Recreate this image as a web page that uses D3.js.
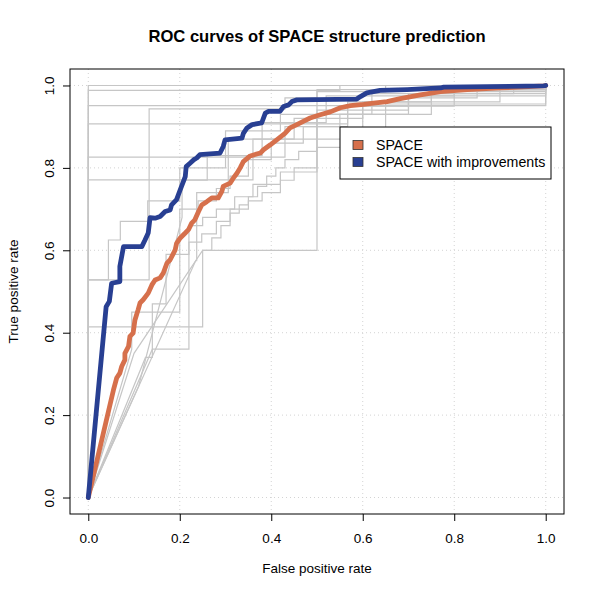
<!DOCTYPE html>
<html>
<head>
<meta charset="utf-8">
<script src="https://cdn.jsdelivr.net/npm/d3@7"></script>
<style>
  html, body { margin: 0; padding: 0; background: #fff; }
  svg { display: block; font-family: "Liberation Sans", Arial, Helvetica, sans-serif; }
</style>
</head>
<body>
<svg id="chart" width="600" height="600"></svg>
<script>
// ---------- data ----------
const title = "ROC curves of SPACE structure prediction";
const xLabel = "False positive rate";
const yLabel = "True positive rate";
const tickValues = [0, 0.2, 0.4, 0.6, 0.8, 1.0];
const tickLabels = ["0.0", "0.2", "0.4", "0.6", "0.8", "1.0"];
const seriesNames = ["SPACE", "SPACE with improvements"];

// SPACE (orange) ROC curve: [FPR, TPR]
const spaceFPR = [0, 0.055, 0.062, 0.069, 0.073, 0.080, 0.080, 0.088, 0.091, 0.098, 0.102, 0.109, 0.113, 0.120, 0.131, 0.139, 0.146, 0.157, 0.164, 0.172, 0.179, 0.190, 0.193, 0.201, 0.212, 0.219, 0.226, 0.233, 0.241, 0.248, 0.259, 0.270, 0.284, 0.292, 0.295, 0.310, 0.317, 0.325, 0.332, 0.339, 0.354, 0.376, 0.383, 0.398, 0.412, 0.430, 0.441, 0.456, 0.470, 0.485, 0.507, 0.529, 0.551, 0.573, 0.602, 0.624, 0.653, 0.682, 0.726, 0.770, 0.828, 0.901, 0.996, 1];
const spaceTPR = [0, 0.261, 0.290, 0.302, 0.318, 0.334, 0.350, 0.367, 0.391, 0.399, 0.431, 0.456, 0.472, 0.480, 0.496, 0.516, 0.528, 0.533, 0.545, 0.569, 0.577, 0.601, 0.617, 0.630, 0.642, 0.650, 0.666, 0.674, 0.694, 0.710, 0.718, 0.727, 0.727, 0.743, 0.755, 0.763, 0.775, 0.787, 0.800, 0.815, 0.829, 0.836, 0.844, 0.856, 0.868, 0.884, 0.897, 0.905, 0.913, 0.921, 0.929, 0.936, 0.946, 0.951, 0.954, 0.957, 0.961, 0.968, 0.977, 0.985, 0.990, 0.994, 0.999, 1];

// SPACE with improvements (blue) ROC curve
const improvedFPR = [0, 0.039, 0.046, 0.051, 0.069, 0.069, 0.077, 0.117, 0.124, 0.131, 0.135, 0.146, 0.157, 0.168, 0.179, 0.182, 0.193, 0.201, 0.212, 0.214, 0.223, 0.231, 0.237, 0.244, 0.288, 0.295, 0.299, 0.336, 0.339, 0.347, 0.358, 0.379, 0.387, 0.394, 0.419, 0.427, 0.438, 0.445, 0.456, 0.587, 0.595, 0.609, 0.638, 0.697, 0.770, 0.777, 0.996, 1];
const improvedTPR = [0, 0.463, 0.476, 0.520, 0.524, 0.561, 0.609, 0.609, 0.625, 0.642, 0.679, 0.678, 0.682, 0.694, 0.698, 0.710, 0.723, 0.747, 0.779, 0.803, 0.812, 0.820, 0.824, 0.832, 0.836, 0.852, 0.868, 0.872, 0.884, 0.897, 0.905, 0.909, 0.933, 0.937, 0.937, 0.949, 0.953, 0.961, 0.965, 0.967, 0.973, 0.982, 0.988, 0.990, 0.994, 0.996, 0.999, 1];

// Individual (grey) ROC curves: each is a list of [FPR, TPR] vertices
const greyCurves = [
  [[0,0],[0,1],[1,1]],
  [[0,0],[0,0.951],[1,0.951],[1,1]],
  [[0,0],[0,0.988],[0.55,0.988],[0.55,1],[1,1]],
  [[0,0],[0,0.907],[0.567,0.907],[0.567,0.95],[0.70,0.95],[0.70,0.98],[0.93,0.98],[0.93,1],[1,1]],
  [[0,0],[0,0.826],[0.43,0.826],[0.43,0.90],[0.567,0.90],[0.567,0.96],[0.75,0.96],[0.75,0.99],[1,0.99],[1,1]],
  [[0,0],[0,0.771],[0.36,0.771],[0.36,0.87],[0.50,0.87],[0.50,0.94],[0.70,0.94],[0.70,0.975],[1,0.975],[1,1]],
  [[0,0],[0,0.528],[0.133,0.528],[0.133,0.943],[0.43,0.943],[0.43,0.97],[0.50,0.97],[0.50,0.99],[1,0.99],[1,1]],
  [[0,0],[0,0.528],[0.044,0.528],[0.044,0.625],[0.070,0.625],[0.070,0.67],[0.13,0.67],[0.13,0.72],[0.20,0.72],[0.20,0.80],[0.30,0.80],[0.30,0.89],[0.42,0.89],[0.42,0.93],[0.62,0.93],[0.62,0.98],[1,0.98],[1,1]],
  [[0,0],[0,0.414],[0.25,0.414],[0.25,0.60],[0.27,0.60],[0.27,0.63],[0.29,0.63],[0.29,0.66],[0.31,0.66],[0.31,0.69],[0.33,0.69],[0.33,0.71],[0.35,0.71],[0.35,0.73],[0.37,0.73],[0.37,0.755],[0.39,0.755],[0.39,0.78],[0.41,0.78],[0.41,0.80],[0.43,0.80],[0.43,0.82],[0.46,0.82],[0.46,0.84],[0.50,0.84],[0.50,0.87],[0.60,0.87],[0.60,0.95],[0.80,0.95],[0.80,0.99],[1,0.99],[1,1]],
  [[0,0],[0.10,0.35],[0.25,0.60],[0.50,0.60],[0.50,0.985],[0.65,0.985],[0.65,1],[1,1]],
  [[0,0],[0.095,0.36],[0.095,0.45],[0.20,0.45],[0.20,0.70],[0.24,0.70],[0.24,0.72],[0.28,0.72],[0.28,0.75],[0.31,0.75],[0.31,0.78],[0.35,0.78],[0.35,0.82],[0.40,0.82],[0.40,0.86],[0.47,0.86],[0.47,0.90],[0.55,0.90],[0.55,0.93],[0.70,0.93],[0.70,0.97],[0.85,0.97],[0.85,0.99],[1,0.99],[1,1]],
  [[0,0],[0.235,0.575],[0.237,0.575],[0.237,0.74],[0.306,0.74],[0.306,0.87],[0.45,0.87],[0.45,0.92],[0.60,0.92],[0.60,0.96],[0.90,0.96],[0.90,1],[1,1]],
  [[0,0],[0.11,0.27],[0.205,0.68],[0.205,0.77],[0.26,0.77],[0.26,0.83],[0.38,0.83],[0.38,0.91],[0.52,0.91],[0.52,0.975],[0.80,0.975],[0.80,1],[1,1]],
  [[0,0],[0.125,0.34],[0.14,0.34],[0.14,0.47],[0.17,0.47],[0.17,0.59],[0.22,0.59],[0.22,0.66],[0.25,0.66],[0.25,0.68],[0.28,0.68],[0.28,0.70],[0.32,0.70],[0.32,0.73],[0.36,0.73],[0.36,0.76],[0.42,0.76],[0.42,0.79],[0.50,0.79],[0.50,0.93],[0.75,0.93],[0.75,0.985],[1,0.985],[1,1]],
  [[0,0],[0.14,0.36],[0.22,0.36],[0.22,0.62],[0.248,0.62],[0.248,0.64],[0.28,0.64],[0.28,0.67],[0.31,0.67],[0.31,0.70],[0.35,0.70],[0.35,0.72],[0.38,0.72],[0.38,0.74],[0.42,0.74],[0.42,0.77],[0.45,0.77],[0.45,0.80],[0.50,0.80],[0.50,0.85],[0.65,0.85],[0.65,0.955],[1,0.955],[1,1]]
];

const colors = { space: "#d6704c", improved: "#283f92", grey: "#c6c6c6" };

// ---------- layout ----------
const svg = d3.select("#chart");
const plot = { left: 70, right: 564, top: 69, bottom: 514 };

const x = d3.scaleLinear().domain([-0.04, 1.04]).range([plot.left, plot.right]);
const y = d3.scaleLinear().domain([-0.04, 1.04]).range([plot.bottom, plot.top]);

// grid (dotted)
const grid = svg.append("g").attr("stroke", "#d3d3d3").attr("stroke-width", 1).attr("stroke-dasharray", "1,3");
grid.selectAll(".gx").data(tickValues).enter().append("line")
  .attr("x1", d => x(d)).attr("x2", d => x(d)).attr("y1", plot.top).attr("y2", plot.bottom);
grid.selectAll(".gy").data(tickValues).enter().append("line")
  .attr("y1", d => y(d)).attr("y2", d => y(d)).attr("x1", plot.left).attr("x2", plot.right);

const line = d3.line().x(d => x(d[0])).y(d => y(d[1]));

// grey curves
svg.append("g").selectAll("path").data(greyCurves).enter().append("path")
  .attr("d", line).attr("fill", "none").attr("stroke", colors.grey).attr("stroke-width", 1.2);

const spacePts = spaceFPR.map((v, i) => [v, spaceTPR[i]]);
const improvedPts = improvedFPR.map((v, i) => [v, improvedTPR[i]]);

svg.append("path").attr("d", line(spacePts)).attr("fill", "none")
  .attr("stroke", colors.space).attr("stroke-width", 4.8).attr("stroke-linejoin", "round").attr("stroke-linecap", "round");
svg.append("path").attr("d", line(improvedPts)).attr("fill", "none")
  .attr("stroke", colors.improved).attr("stroke-width", 4.8).attr("stroke-linejoin", "round").attr("stroke-linecap", "round");

// box
svg.append("rect").attr("x", plot.left).attr("y", plot.top)
  .attr("width", plot.right - plot.left).attr("height", plot.bottom - plot.top)
  .attr("fill", "none").attr("stroke", "#000").attr("stroke-width", 1);

// axes
const xAxis = d3.axisBottom(x).tickValues(tickValues).tickFormat((d, i) => tickLabels[i]).tickSize(7).tickPadding(12);
const gx = svg.append("g").attr("transform", `translate(0,${plot.bottom})`).call(xAxis);
gx.select(".domain").remove();
gx.selectAll("text").attr("font-size", 13.5).attr("fill", "#000").attr("font-family", "Liberation Sans, Arial, sans-serif");
gx.selectAll("line").attr("stroke", "#000");

const yAxis = d3.axisLeft(y).tickValues(tickValues).tickFormat((d, i) => tickLabels[i]).tickSize(7).tickPadding(0);
const gy = svg.append("g").attr("transform", `translate(${plot.left},0)`).call(yAxis);
gy.select(".domain").remove();
gy.selectAll("line").attr("stroke", "#000");
gy.selectAll("text")
  .attr("font-size", 13.5).attr("fill", "#000").attr("font-family", "Liberation Sans, Arial, sans-serif")
  .attr("x", null).attr("dy", null)
  .attr("text-anchor", "middle")
  .attr("transform", "translate(-16,0) rotate(-90)");

// title & labels
svg.append("text").attr("x", (plot.left + plot.right) / 2).attr("y", 42)
  .attr("text-anchor", "middle").attr("font-size", 16.6).attr("font-weight", "bold").text(title);
svg.append("text").attr("x", (plot.left + plot.right) / 2).attr("y", 573)
  .attr("text-anchor", "middle").attr("font-size", 13.5).text(xLabel);
svg.append("text").attr("transform", `translate(18,${(plot.top + plot.bottom) / 2}) rotate(-90)`)
  .attr("text-anchor", "middle").attr("font-size", 13.5).text(yLabel);

// legend
const legend = svg.append("g").attr("transform", "translate(340,127)");
legend.append("rect").attr("x", 0).attr("y", 0).attr("width", 211).attr("height", 52)
  .attr("fill", "#fff").attr("stroke", "#000").attr("stroke-width", 1);
const items = [
  { name: seriesNames[0], color: colors.space },
  { name: seriesNames[1], color: colors.improved }
];
const li = legend.selectAll(".item").data(items).enter().append("g")
  .attr("transform", (d, i) => `translate(0,${18 + i * 17})`);
li.append("rect").attr("x", 13).attr("y", -4.5).attr("width", 10).attr("height", 9)
  .attr("fill", d => d.color).attr("stroke", "#333").attr("stroke-width", 0.8);
li.append("text").attr("x", 36).attr("y", 0).attr("dy", "0.35em").attr("font-size", 14.2).text(d => d.name);
</script>
</body>
</html>
